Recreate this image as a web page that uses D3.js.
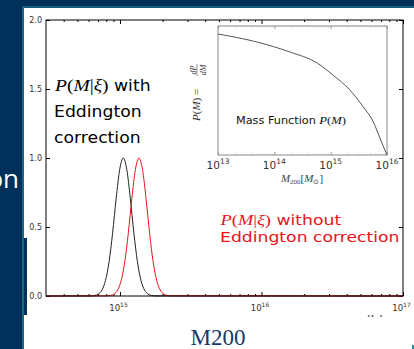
<!DOCTYPE html>
<html>
<head>
<meta charset="utf-8">
<script src="https://cdn.jsdelivr.net/npm/d3@7"></script>
<style>
  body { margin: 0; background: #01305a; }
  svg { display: block; }
</style>
</head>
<body>
<svg width="414" height="349"></svg>
<script>
// curves, x in log10(M), y = normalised P(M|xi)
const blackLogM = [14.48, 14.798, 14.823, 14.848, 14.873, 14.898, 14.923, 14.948, 14.973, 14.998, 15.023,
                   15.048, 15.073, 15.098, 15.123, 15.148, 15.173, 15.198, 15.223, 15.248, 17.0];
const blackP    = [0, 0.001, 0.004, 0.014, 0.044, 0.114, 0.249, 0.458, 0.707, 0.917, 1.000,
                   0.917, 0.707, 0.458, 0.249, 0.114, 0.044, 0.014, 0.004, 0.001, 0];
const redLogM   = [14.48, 14.909, 14.934, 14.959, 14.984, 15.009, 15.034, 15.059, 15.084, 15.109, 15.134,
                   15.159, 15.184, 15.209, 15.234, 15.259, 15.284, 15.309, 15.334, 15.359, 17.0];
const redP      = [0, 0.001, 0.004, 0.014, 0.044, 0.114, 0.249, 0.458, 0.707, 0.917, 1.000,
                   0.917, 0.707, 0.458, 0.249, 0.114, 0.044, 0.014, 0.004, 0.001, 0];
// inset mass function (arbitrary units, 0..1 of the inset height)
const insetLogM = [13.0, 13.69, 14.28, 14.76, 15.04, 15.34, 15.58, 15.74, 15.91, 16.0];
const insetP    = [0.938, 0.876, 0.798, 0.713, 0.620, 0.504, 0.372, 0.271, 0.093, 0.0];

const yTicks = [0, 0.5, 1.0, 1.5, 2.0];
const xTickExp = [15, 16, 17];
const insetTickExp = [13, 14, 15, 16];

const teal = '#2a8c98', navy = '#01305a', red = '#e8141c';
const svg = d3.select('svg');

// slide background
svg.append('rect').attr('width', 414).attr('height', 349).attr('fill', navy);
svg.append('rect').attr('x', 24).attr('y', 8).attr('width', 390).attr('height', 341).attr('fill', '#fff');
svg.append('rect').attr('x', 24).attr('y', 238).attr('width', 3).attr('height', 77).attr('fill', navy);
svg.append('line').attr('x1', 23).attr('x2', 23).attr('y1', 7).attr('y2', 349).attr('stroke', teal).attr('stroke-width', 1.2);
svg.append('line').attr('x1', 23).attr('x2', 414).attr('y1', 7).attr('y2', 7).attr('stroke', teal).attr('stroke-width', 1.2);
svg.append('rect').attr('x', 412).attr('y', 345).attr('width', 2).attr('height', 4).attr('fill', teal);

// cut-off slide word on the left
svg.append('text').attr('x', 19).attr('y', 188).attr('text-anchor', 'end')
    .style('font-family', 'Open Sans').style('font-size', '26px').attr('fill', '#fff')
    .text('correction');

// main axes
const [L, R, T, B] = [46, 403, 20, 296];
const x = d3.scaleLog().domain([3e14, 1e17]).range([L, R]);
const y = d3.scaleLinear().domain([0, 2]).range([B, T]);

const minor = [];
for (let e = 14; e < 17; e++) for (let m = 2; m <= 9; m++) {
    const v = m * Math.pow(10, e);
    if (v > 3e14 && v < 1e17) minor.push(v);
}
const majors = xTickExp.map(e => Math.pow(10, e));

function tickAxis(axis, tr) {
    const g = svg.append('g').attr('transform', tr).call(axis);
    g.select('.domain').remove();
    g.selectAll('line').attr('stroke', '#000');
    return g;
}
tickAxis(d3.axisBottom(x).tickValues(majors).tickSize(-4).tickFormat(''), `translate(0,${B})`);
tickAxis(d3.axisBottom(x).tickValues(minor).tickSize(-2).tickFormat(''), `translate(0,${B})`);
tickAxis(d3.axisTop(x).tickValues(majors).tickSize(-4).tickFormat(''), `translate(0,${T})`);
tickAxis(d3.axisTop(x).tickValues(minor).tickSize(-2).tickFormat(''), `translate(0,${T})`);
const yAx = tickAxis(d3.axisLeft(y).tickValues(yTicks).tickSize(-4).tickPadding(4).tickFormat(d3.format('.1f')), `translate(${L},0)`);
yAx.selectAll('text').style('font-family', 'DejaVu Sans').style('font-size', '8px').attr('fill', '#333');
tickAxis(d3.axisRight(y).tickValues(yTicks).tickSize(-4).tickFormat(''), `translate(${R},0)`);

function powLabel(px, py, exp, size, sup) {
    const t = svg.append('text').attr('x', px).attr('y', py).attr('text-anchor', 'middle')
        .style('font-family', 'DejaVu Sans').style('font-size', size + 'px').attr('fill', '#333');
    t.append('tspan').text('10');
    t.append('tspan').attr('dy', -size * 0.45).style('font-size', sup + 'px').text(exp);
}
xTickExp.forEach(e => powLabel(x(Math.pow(10, e)) - 1.5, 311, e, 8.5, 6));

// curves
const line = d3.line().x(d => x(Math.pow(10, d[0]))).y(d => y(d[1])).curve(d3.curveMonotoneX);
svg.append('path').datum(blackLogM.map((v, i) => [v, blackP[i]]))
    .attr('d', line).attr('fill', 'none').attr('stroke', '#222').attr('stroke-width', 1);
svg.append('path').datum(redLogM.map((v, i) => [v, redP[i]]))
    .attr('d', line).attr('fill', 'none').attr('stroke', red).attr('stroke-width', 1);

svg.append('rect').attr('x', L).attr('y', T).attr('width', R - L).attr('height', B - T)
    .attr('fill', 'none').attr('stroke', '#000').attr('stroke-width', 1);

// annotation text, slightly stretched horizontally like the picture
function block(px, py, color, size, sx) {
    return svg.append('g').attr('transform', `translate(${px},${py}) scale(${sx},1)`)
        .append('text').attr('fill', color).style('font-family', 'DejaVu Sans').style('font-size', size + 'px');
}
function mathP(t, size) {
    const s = (txt, it) => t.append('tspan').style('font-family', 'Liberation Serif')
        .style('font-style', it ? 'italic' : 'normal').style('font-size', size + 'px').text(txt);
    s('P', 1); s('(', 0); s('M', 1); s('|', 0); s('ξ', 1); s(')', 0);
}
let t = block(55, 91, '#000', 15, 1.15); mathP(t, 17); t.append('tspan').text(' with');
block(54, 117, '#000', 15, 1.15).text('Eddington');
block(54, 143, '#000', 15, 1.15).text('correction');
t = block(220.5, 224.5, red, 14, 1.23); mathP(t, 15); t.append('tspan').text(' without');
block(220, 241.5, red, 14, 1.23).text('Eddington correction');

// inset
const ix = d3.scaleLog().domain([1e13, 1e16]).range([218, 387]);
const iy = d3.scaleLinear().domain([0, 1]).range([155, 26]);
svg.append('rect').attr('x', 218).attr('y', 26).attr('width', 169).attr('height', 129)
    .attr('fill', '#fff').attr('stroke', '#888').attr('stroke-width', 1);
const iMaj = insetTickExp.map(e => Math.pow(10, e));
const iMin = [];
for (let e = 13; e < 16; e++) for (let m = 2; m <= 9; m++) iMin.push(m * Math.pow(10, e));
[[d3.axisBottom, 155], [d3.axisTop, 26]].forEach(([fn, py]) => {
    tickAxis(fn(ix).tickValues(iMaj).tickSize(-3).tickFormat(''), `translate(0,${py})`).selectAll('line').attr('stroke', '#999');
    tickAxis(fn(ix).tickValues(iMin).tickSize(-1.5).tickFormat(''), `translate(0,${py})`).selectAll('line').attr('stroke', '#bbb');
});
const iline = d3.line().x(d => ix(Math.pow(10, d[0]))).y(d => iy(d[1])).curve(d3.curveMonotoneX);
svg.append('path').datum(insetLogM.map((v, i) => [v, insetP[i]]))
    .attr('d', iline).attr('fill', 'none').attr('stroke', '#555').attr('stroke-width', 1);
insetTickExp.forEach(e => powLabel(ix(Math.pow(10, e)), 169, e, 10.5, 7.5));

const mf = svg.append('g').attr('transform', 'translate(236,124) scale(1.15,1)')
    .append('text').style('font-family', 'DejaVu Sans').style('font-size', '9.8px').attr('fill', '#111');
mf.append('tspan').text('Mass Function ');
[['P', 1], ['(', 0], ['M', 1], [')', 0]].forEach(([s, it]) => mf.append('tspan')
    .style('font-family', 'Liberation Serif').style('font-style', it ? 'italic' : 'normal')
    .style('font-size', '11px').text(s));

// inset x label M_200[M_sun]
const xl = svg.append('text').attr('x', 302).attr('y', 182).attr('text-anchor', 'middle')
    .style('font-family', 'Liberation Serif').style('font-size', '11px').attr('fill', '#444');
xl.append('tspan').style('font-style', 'italic').text('M');
xl.append('tspan').attr('dy', 2).style('font-size', '7px').text('200');
xl.append('tspan').attr('dy', -2).text('[');
xl.append('tspan').style('font-style', 'italic').text('M');
xl.append('tspan').attr('dy', 2).style('font-size', '7px').text('⊙');
xl.append('tspan').attr('dy', -2).text(']');

// inset y label P(M) = dP/dM, rotated
const yl = svg.append('g').attr('transform', 'translate(200,91) rotate(-90)')
    .style('font-family', 'Liberation Serif').attr('fill', '#333');
const yt = yl.append('text').attr('x', -30).attr('y', 0).style('font-size', '11px');
[['P', 1], ['(', 0], ['M', 1], [')', 0], [' =', 0]].forEach(([s, it]) => yt.append('tspan')
    .style('font-style', it ? 'italic' : 'normal').text(s));
yl.append('text').attr('x', 21).attr('y', -4.5).attr('text-anchor', 'middle').style('font-size', '8px')
    .style('font-style', 'italic').text('dP');
yl.append('text').attr('x', 21).attr('y', 5.5).attr('text-anchor', 'middle').style('font-size', '8px')
    .style('font-style', 'italic').text('dM');
yl.append('line').attr('x1', 15).attr('x2', 27).attr('y1', -3).attr('y2', -3).attr('stroke', '#333').attr('stroke-width', 0.5);

// clipped remnant of a panel letter and the slide's x label
svg.append('clipPath').attr('id', 'cut').append('rect').attr('x', 340).attr('y', 311).attr('width', 60).attr('height', 6);
svg.append('text').attr('x', 375).attr('y', 325).attr('text-anchor', 'middle').attr('clip-path', 'url(#cut)')
    .style('font-family', 'DejaVu Sans').style('font-size', '13px').attr('fill', '#333').text('(b)');
svg.append('text').attr('x', 218).attr('y', 345).attr('text-anchor', 'middle')
    .style('font-family', 'Liberation Serif').style('font-size', '23px').attr('fill', '#16386a').text('M200');
</script>
</body>
</html>
